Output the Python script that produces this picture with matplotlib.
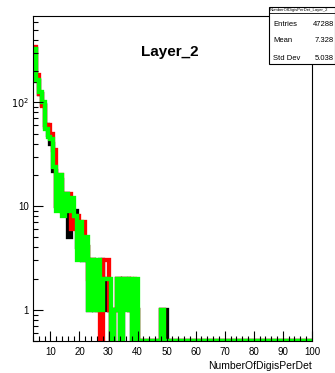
import numpy as np
import matplotlib.pyplot as plt
from matplotlib.ticker import FixedLocator, MultipleLocator, LogLocator, NullFormatter

plt.rcParams['font.family'] = ['Liberation Sans', 'DejaVu Sans']

# bins of width 1, counts for bins 4..40, the rest is in the tail lists
edges = np.arange(4, 101)
n = len(edges) - 1

green_vals = [330, 165, 125, 100, 56, 46, 44, 24, 9, 20, 8, 13, 9, 12, 8, 3, 7, 3, 5,
              1, 3, 1, 3, 1, 2, 2, 2, 0, 1, 2, 0, 2, 1, 2, 0, 2, 0]
black_vals = [330, 160, 120, 95, 60, 48, 40, 22, 10, 18, 9, 13, 5, 9, 9, 4, 6, 3, 4,
              1, 3, 1, 2, 3, 1, 2, 1, 0, 1, 2, 0, 2, 2, 1, 0, 1, 0]
red_vals = [345, 185, 120, 92, 58, 60, 50, 35, 10, 20, 13, 13, 13, 6, 8, 8, 7, 7, 4,
            2, 3, 2, 1, 0, 3, 3, 1, 0, 1, 2, 1, 2, 2, 1, 2, 1, 0]
# far tail: (bin, count)
green_tail = [(48, 1)]
black_tail = [(48, 1), (49, 1)]
red_tail = [(48, 1)]

ymin, ymax = 0.5, 680


def full(vals, tail):
    v = np.zeros(n)
    v[:len(vals)] = vals
    for b, c in tail:
        v[b - 4] = c
    return np.where(v > 0, v, ymin)


fig = plt.figure(figsize=(3.35, 3.73), dpi=100)
ax = fig.add_axes([0.0985, 0.0858, 0.8325, 0.871])

lw = 3.1
ax.stairs(full(black_vals, black_tail), edges, color='black', linewidth=lw, baseline=None)
ax.stairs(full(red_vals, red_tail), edges, color='#ff0000', linewidth=lw, baseline=None)
ax.stairs(full(green_vals, green_tail), edges, color='#00ff00', linewidth=lw, baseline=None)

ax.set_yscale('log')
ax.set_xlim(4, 100)
ax.set_ylim(ymin, ymax)

ax.xaxis.set_major_locator(MultipleLocator(10))
ax.xaxis.set_minor_locator(MultipleLocator(2))
ax.yaxis.set_major_locator(FixedLocator([1, 10, 100]))
ax.yaxis.set_minor_locator(LogLocator(base=10, subs=np.arange(2, 10)))
ax.yaxis.set_minor_formatter(NullFormatter())
ax.set_yticklabels(['1', '10', r'$10^{2}$'])
ax.tick_params(axis='both', which='major', direction='in', length=7, width=0.8,
               labelsize=7, pad=3)
ax.tick_params(axis='both', which='minor', direction='in', length=3.5, width=0.8)
ax.tick_params(axis='x', pad=4)
for s in ax.spines.values():
    s.set_linewidth(0.8)

ax.set_xlabel('NumberOfDigisPerDet', fontsize=7.5, ha='right', x=1.0, labelpad=3)
fig.text(0.508, 0.86, 'Layer_2', fontsize=11, fontweight='bold', ha='center', va='center')

# stats box
bx, by, bw, bh = 269 / 335, 1 - 64 / 373, 66 / 335, 57 / 373
fig.patches.append(plt.Rectangle((bx, by), bw, bh, transform=fig.transFigure,
                                 facecolor='white', edgecolor='black', linewidth=0.8, zorder=5))
fig.lines.append(plt.Line2D([bx, bx + bw], [1 - 13 / 373] * 2, transform=fig.transFigure,
                            color='black', linewidth=0.6, zorder=6))
fig.text(bx + 0.003, 1 - 10 / 373, 'NumberOfDigisPerDet_Layer_2', fontsize=3, va='center', zorder=7)
rows = [('Entries', '47288'), ('Mean', '7.328'), ('Std Dev', '5.038')]
for i, (k, v) in enumerate(rows):
    yy = 1 - (24 + 17 * i) / 373
    fig.text(bx + 0.012, yy, k, fontsize=5.5, va='center', zorder=7)
    fig.text(0.997, yy, v, fontsize=5.5, va='center', ha='right', zorder=7)

fig.savefig('out.png', dpi=100)
